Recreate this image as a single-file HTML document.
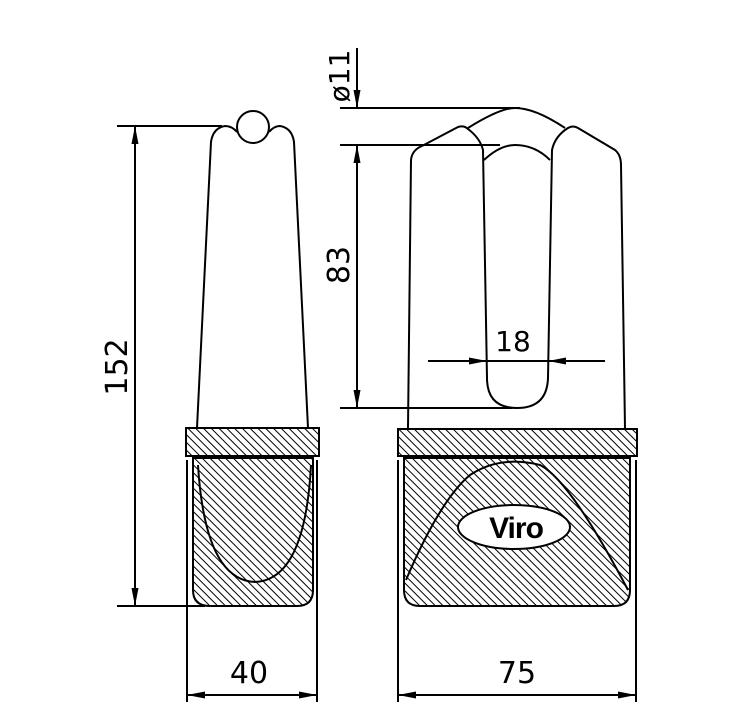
<!DOCTYPE html>
<html><head><meta charset="utf-8"><style>html,body{margin:0;padding:0;background:#fff}svg{display:block}</style></head><body>
<svg width="742" height="715" viewBox="0 0 742 715" xmlns="http://www.w3.org/2000/svg" font-family="'DejaVu Sans','Liberation Sans',sans-serif">
<defs>
<pattern id="h" patternUnits="userSpaceOnUse" width="5.5" height="5.5" patternTransform="rotate(-45)">
<rect width="5.5" height="5.5" fill="#fff"/><line x1="0" y1="0" x2="0" y2="5.5" stroke="#000" stroke-width="2"/>
</pattern>
<marker id="a" viewBox="0 0 18 7" refX="18" refY="3.5" markerWidth="18" markerHeight="7" markerUnits="userSpaceOnUse" orient="auto-start-reverse"><path d="M0,0L18,3.5L0,7z" fill="#000"/></marker>
</defs>
<g fill="none" stroke="#000" stroke-width="2">
<!-- left view -->
<line x1="117" y1="126" x2="222" y2="126"/>
<line x1="117" y1="606" x2="205" y2="606"/>
<line x1="135" y1="126" x2="135" y2="606" marker-start="url(#a)" marker-end="url(#a)"/>
<path d="M197,428 L211,142 Q213,128 225,126 Q232,126 237,132"/>
<path d="M269,132 Q274,126 280,126 Q292,128 294,142 L308,428"/>
<circle cx="253" cy="127" r="16"/>
<rect x="186" y="428" width="133" height="28" fill="url(#h)"/>
<path d="M193,458 L193,590 Q193,606 210,606 L297,606 Q313,606 313,590 L313,458 Z" fill="url(#h)"/>
<path d="M198,465 Q205,580 255,582 Q305,580 311,465"/>
<line x1="187" y1="460" x2="187" y2="702"/>
<line x1="317" y1="460" x2="317" y2="702"/>
<line x1="187" y1="695" x2="317" y2="695" marker-start="url(#a)" marker-end="url(#a)"/>
<!-- right view -->
<line x1="340" y1="108" x2="520" y2="108"/>
<line x1="340" y1="145" x2="500" y2="145"/>
<line x1="340" y1="408" x2="512" y2="408"/>
<line x1="357" y1="48" x2="357" y2="108" marker-end="url(#a)"/>
<line x1="357" y1="145" x2="357" y2="408" marker-start="url(#a)" marker-end="url(#a)"/>
<path d="M408,428 L411,160 Q412,150 422,146 L458,127 Q464,125 468,129 Q480,138 483,150 L487,378 Q487,408 517,408 Q547,408 548,378 L552,150 Q555,136 568,128 Q573,125 578,128 L615,150 Q621,155 621,165 L625,428"/>
<path d="M468,128 Q500,108 515,108 Q535,108 565,128"/>
<path d="M484,160 Q500,145 515,145 Q535,145 550,160"/>
<line x1="428" y1="361" x2="487" y2="361" marker-end="url(#a)"/>
<line x1="548" y1="361" x2="605" y2="361" marker-start="url(#a)"/>
<line x1="487" y1="361" x2="548" y2="361"/>
<rect x="398" y="429" width="239" height="27" fill="url(#h)"/>
<path d="M404,458 L404,590 Q404,606 420,606 L614,606 Q630,606 630,590 L630,458 Z" fill="url(#h)"/>
<path d="M406,580 Q440,500 470,475 Q500,455 540,465 Q570,480 628,590"/>
<ellipse cx="514" cy="527" rx="56" ry="22" fill="#fff"/>
<line x1="398" y1="460" x2="398" y2="702"/>
<line x1="636" y1="460" x2="636" y2="702"/>
<line x1="398" y1="695" x2="636" y2="695" marker-start="url(#a)" marker-end="url(#a)"/>
</g>
<g fill="#000" font-size="30">
<text x="249" y="683" text-anchor="middle">40</text>
<text x="517" y="683" text-anchor="middle">75</text>
<text x="513" y="351" text-anchor="middle" font-size="28">18</text>
<text transform="translate(349,265) rotate(-90)" text-anchor="middle">83</text>
<text transform="translate(127,367) rotate(-90)" text-anchor="middle">152</text>
<text transform="translate(349,76) rotate(-90)" text-anchor="middle" font-size="28">ø11</text>
<text x="516" y="538" text-anchor="middle" font-family="'Liberation Sans',sans-serif" font-weight="bold" font-size="30" letter-spacing="-1">Viro</text>
</g>
</svg>
</body></html>
